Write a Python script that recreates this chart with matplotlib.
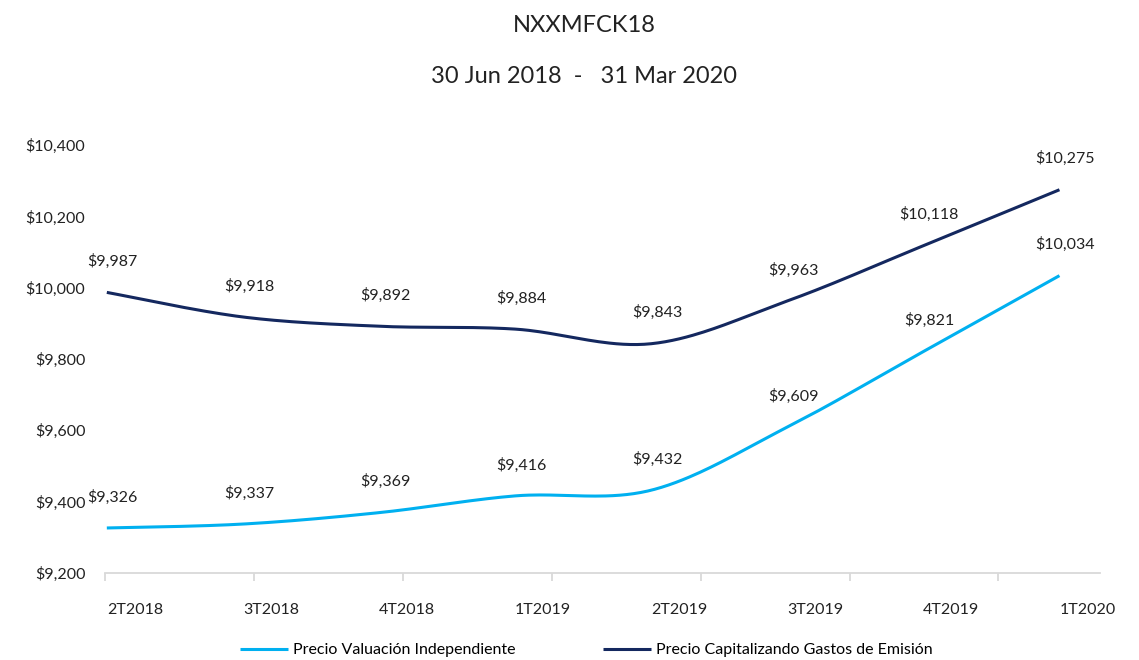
import numpy as np
import matplotlib
matplotlib.use("Agg")
import matplotlib.pyplot as plt
from matplotlib.ticker import FuncFormatter
from matplotlib.transforms import ScaledTranslation

plt.rcParams['font.family'] = ['Lato', 'DejaVu Sans']

TITLE = 'NXXMFCK18'
SUBTITLE = '30 Jun 2018  -   31 Mar 2020'
QUARTERS = ['2T2018', '3T2018', '4T2018', '1T2019', '2T2019', '3T2019', '4T2019', '1T2020']
VALUACION = [9326, 9337, 9369, 9416, 9432, 9609, 9821, 10034]
CAPITALIZANDO = [9987, 9918, 9892, 9884, 9843, 9963, 10118, 10275]
NAMES = ['Precio Valuación Independiente', 'Precio Capitalizando Gastos de Emisión']
COLORS = ['#00B0F0', '#14285F']


def smooth(y, n=40):
    # bezier curve through the points, like the spreadsheet "smoothed line"
    y = np.asarray(y, dtype=float)
    x = np.arange(len(y), dtype=float)
    xs, ys = [], []
    for i in range(len(y) - 1):
        x0, x3 = x[i], x[i + 1]
        y0, y3 = y[i], y[i + 1]
        xp = x[i - 1] if i > 0 else x0
        yp = y[i - 1] if i > 0 else y0
        xn = x[i + 2] if i + 2 < len(y) else x3
        yn = y[i + 2] if i + 2 < len(y) else y3
        x1 = x0 + (x3 - xp) / 6
        y1 = y0 + (y3 - yp) / 6
        x2 = x3 - (xn - x0) / 6
        y2 = y3 - (yn - y0) / 6
        t = np.linspace(0, 1, n)
        xs.append((1 - t)**3 * x0 + 3 * (1 - t)**2 * t * x1 + 3 * (1 - t) * t**2 * x2 + t**3 * x3)
        ys.append((1 - t)**3 * y0 + 3 * (1 - t)**2 * t * y1 + 3 * (1 - t) * t**2 * y2 + t**3 * y3)
    return np.concatenate(xs), np.concatenate(ys)


fig = plt.figure(figsize=(11.39, 6.6), dpi=100)
ax = fig.add_axes([0.092, 0.132, 0.874, 0.648])

for vals, name, col in zip([VALUACION, CAPITALIZANDO], NAMES, COLORS):
    sx, sy = smooth(vals)
    ax.plot(sx, sy, color=col, lw=2.2, label=name, solid_capstyle='butt')
    off = ScaledTranslation(6 / 100, 31 / 100, fig.dpi_scale_trans)
    for i, v in enumerate(vals):
        ax.text(i, v, f'${v:,}', transform=ax.transData + off,
                ha='center', va='center', fontsize=11.5, color='#222222')

ax.set_ylim(9200, 10400)
ax.set_xlim(-0.015, 7.3)
ax.set_yticks(np.arange(9200, 10401, 200))
ax.yaxis.set_major_formatter(FuncFormatter(lambda v, p: f'${v:,.0f}'))
ax.tick_params(axis='y', length=0, pad=14, labelsize=11.5, labelcolor='#222222')

step = 1.0945
ax.set_xticks(np.arange(len(QUARTERS)))
ax.set_xticklabels(QUARTERS)
ax.set_xticks(-0.015 + step * np.arange(7), minor=True)
ax.tick_params(axis='x', which='major', length=0, pad=22, labelsize=11.5, labelcolor='#222222')
ax.tick_params(axis='x', which='minor', length=6, color='#D9D9D9', width=1.3)
shift = ScaledTranslation(28 / 100, 0, fig.dpi_scale_trans)
for lab in ax.get_xticklabels():
    lab.set_transform(lab.get_transform() + shift)

for s in ['top', 'right', 'left']:
    ax.spines[s].set_visible(False)
ax.spines['bottom'].set_color('#D9D9D9')
ax.spines['bottom'].set_linewidth(1.3)

fig.text(0.513, 0.962, TITLE, ha='center', va='center', fontsize=17, color='#222222')
fig.text(0.513, 0.884, SUBTITLE, ha='center', va='center', fontsize=17, color='#222222')

fig.legend(loc='center', bbox_to_anchor=(0.515, 0.015), ncol=2, frameon=False,
           fontsize=11.5, handlelength=3.0, columnspacing=5.5, handletextpad=0.3)

fig.savefig('out.png', dpi=100)
